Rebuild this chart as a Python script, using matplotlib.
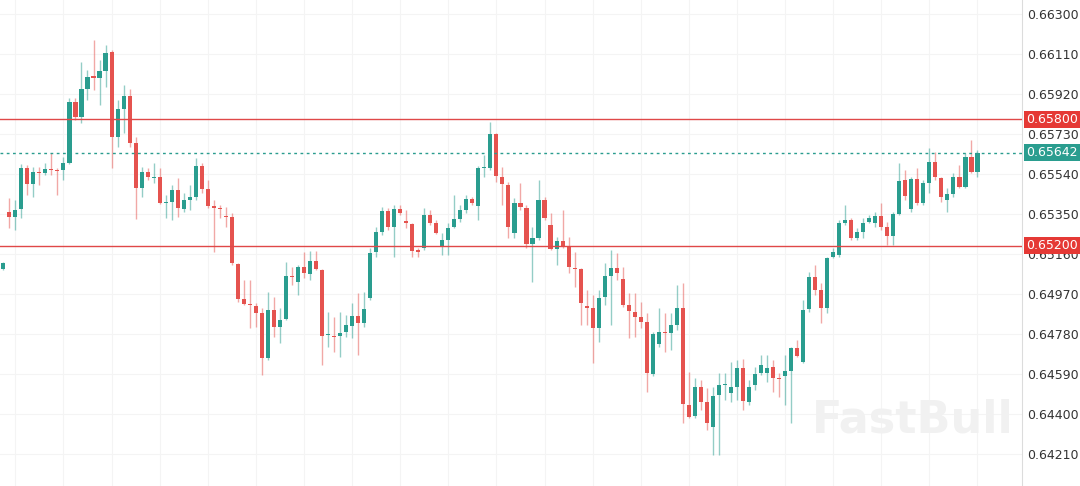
import numpy as np
import matplotlib.pyplot as plt
from matplotlib.transforms import blended_transform_factory

# OHLC values (oldest -> newest)
opens = [0.65089, 0.65359, 0.65336, 0.65374, 0.65569, 0.65493, 0.65550, 0.65545, 0.65564, 0.65559,
         0.65559, 0.65592, 0.65882, 0.65811, 0.65944, 0.66006, 0.65996, 0.66029, 0.66119, 0.65716,
         0.65849, 0.65911, 0.65687, 0.65474, 0.65550, 0.65521, 0.65526, 0.65402, 0.65407, 0.65464,
         0.65374, 0.65416, 0.65431, 0.65578, 0.65469, 0.65388, 0.65379, 0.65340, 0.65336, 0.65113,
         0.64946, 0.64922, 0.64913, 0.64880, 0.64666, 0.64894, 0.64813, 0.64851, 0.65056, 0.65027,
         0.65098, 0.65065, 0.65127, 0.65084, 0.64775, 0.64771, 0.64771, 0.64789, 0.64818, 0.64865,
         0.64832, 0.64951, 0.65170, 0.65265, 0.65364, 0.65288, 0.65374, 0.65317, 0.65303, 0.65179,
         0.65189, 0.65345, 0.65307, 0.65193, 0.65227, 0.65288, 0.65326, 0.65369, 0.65421, 0.65388,
         0.65569, 0.65569, 0.65730, 0.65526, 0.65488, 0.65260, 0.65402, 0.65379, 0.65208, 0.65236,
         0.65416, 0.65298, 0.65184, 0.65222, 0.65193, 0.65094, 0.65089, 0.64913, 0.64903, 0.64808,
         0.64956, 0.65056, 0.65094, 0.65041, 0.64918, 0.64884, 0.64861, 0.64837, 0.64590, 0.64733,
         0.64789, 0.64785, 0.64823, 0.64903, 0.64443, 0.64391, 0.64528, 0.64457, 0.64338, 0.64490,
         0.64538, 0.64500, 0.64528, 0.64618, 0.64457, 0.64538, 0.64595, 0.64595, 0.64623, 0.64571,
         0.64581, 0.64604, 0.64714, 0.64647, 0.64899, 0.65051, 0.64989, 0.64903, 0.65146, 0.65155,
         0.65307, 0.65322, 0.65236, 0.65265, 0.65312, 0.65307, 0.65340, 0.65288, 0.65246, 0.65350,
         0.65512, 0.65374, 0.65516, 0.65402, 0.65497, 0.65597, 0.65521, 0.65416, 0.65445, 0.65526,
         0.65478, 0.65621, 0.65550]
highs = [0.65122, 0.65426, 0.65416, 0.65588, 0.65583, 0.65573, 0.65573, 0.65592, 0.65640, 0.65569,
         0.65621, 0.65901, 0.65901, 0.66072, 0.66034, 0.66176, 0.66082, 0.66153, 0.66129, 0.65892,
         0.65963, 0.65944, 0.65716, 0.65573, 0.65569, 0.65592, 0.65569, 0.65440, 0.65488, 0.65521,
         0.65450, 0.65488, 0.65616, 0.65592, 0.65512, 0.65416, 0.65393, 0.65383, 0.65355, 0.65117,
         0.65037, 0.65037, 0.64927, 0.64903, 0.64980, 0.64956, 0.64903, 0.65122, 0.65098, 0.65108,
         0.65170, 0.65174, 0.65174, 0.65089, 0.64884, 0.64861, 0.64884, 0.64870, 0.64927, 0.64975,
         0.64980, 0.65189, 0.65288, 0.65383, 0.65379, 0.65393, 0.65393, 0.65369, 0.65307, 0.65189,
         0.65379, 0.65369, 0.65322, 0.65260, 0.65307, 0.65440, 0.65393, 0.65440, 0.65431, 0.65578,
         0.65630, 0.65787, 0.65735, 0.65573, 0.65502, 0.65426, 0.65497, 0.65393, 0.65288, 0.65512,
         0.65431, 0.65355, 0.65241, 0.65369, 0.65241, 0.65170, 0.65094, 0.64989, 0.64965, 0.64989,
         0.65117, 0.65179, 0.65165, 0.65098, 0.64975, 0.64975, 0.64932, 0.64880, 0.64789, 0.64903,
         0.64880, 0.64880, 0.65013, 0.65022, 0.64599, 0.64571, 0.64562, 0.64524, 0.64528, 0.64595,
         0.64595, 0.64647, 0.64657, 0.64661, 0.64562, 0.64623, 0.64680, 0.64680, 0.64657, 0.64595,
         0.64680, 0.64718, 0.64752, 0.64942, 0.65075, 0.65108, 0.65022, 0.65146, 0.65189, 0.65322,
         0.65393, 0.65331, 0.65284, 0.65331, 0.65345, 0.65359, 0.65402, 0.65312, 0.65359, 0.65592,
         0.65559, 0.65526, 0.65569, 0.65512, 0.65664, 0.65645, 0.65526, 0.65474, 0.65545, 0.65583,
         0.65640, 0.65702, 0.65654]
lows = [0.65084, 0.65284, 0.65274, 0.65331, 0.65440, 0.65431, 0.65488, 0.65535, 0.65535, 0.65440,
        0.65512, 0.65588, 0.65797, 0.65782, 0.65892, 0.65939, 0.65868, 0.65953, 0.65569, 0.65668,
        0.65735, 0.65668, 0.65326, 0.65431, 0.65512, 0.65497, 0.65398, 0.65331, 0.65322, 0.65336,
        0.65359, 0.65369, 0.65416, 0.65450, 0.65379, 0.65170, 0.65331, 0.65288, 0.65108, 0.64932,
        0.64918, 0.64808, 0.64813, 0.64585, 0.64657, 0.64766, 0.64737, 0.64847, 0.65013, 0.64965,
        0.65046, 0.65037, 0.65084, 0.64633, 0.64718, 0.64695, 0.64671, 0.64766, 0.64761, 0.64680,
        0.64813, 0.64942, 0.65146, 0.65250, 0.65274, 0.65146, 0.65345, 0.65284, 0.65146, 0.65146,
        0.65179, 0.65298, 0.65255, 0.65155, 0.65155, 0.65284, 0.65312, 0.65355, 0.65393, 0.65322,
        0.65526, 0.65559, 0.65502, 0.65393, 0.65236, 0.65236, 0.65369, 0.65189, 0.65027, 0.65227,
        0.65322, 0.65179, 0.65108, 0.65189, 0.65070, 0.65003, 0.64823, 0.64823, 0.64642, 0.64742,
        0.64918, 0.64823, 0.65037, 0.64908, 0.64761, 0.64766, 0.64808, 0.64505, 0.64581, 0.64718,
        0.64695, 0.64704, 0.64799, 0.64357, 0.64381, 0.64381, 0.64419, 0.64324, 0.64206, 0.64206,
        0.64467, 0.64457, 0.64467, 0.64419, 0.64443, 0.64514, 0.64585, 0.64552, 0.64505, 0.64481,
        0.64443, 0.64357, 0.64671, 0.64642, 0.64884, 0.64965, 0.64832, 0.64880, 0.65141, 0.65146,
        0.65298, 0.65227, 0.65227, 0.65236, 0.65307, 0.65288, 0.65274, 0.65203, 0.65203, 0.65345,
        0.65416, 0.65359, 0.65393, 0.65393, 0.65450, 0.65512, 0.65407, 0.65359, 0.65431, 0.65474,
        0.65474, 0.65545, 0.65526]
closes = [0.65117, 0.65336, 0.65369, 0.65569, 0.65493, 0.65550, 0.65545, 0.65564, 0.65559, 0.65554,
          0.65592, 0.65882, 0.65811, 0.65944, 0.66001, 0.65996, 0.66029, 0.66115, 0.65716, 0.65849,
          0.65911, 0.65687, 0.65474, 0.65550, 0.65526, 0.65526, 0.65402, 0.65407, 0.65464, 0.65379,
          0.65416, 0.65431, 0.65578, 0.65469, 0.65388, 0.65379, 0.65374, 0.65336, 0.65117, 0.64946,
          0.64922, 0.64918, 0.64880, 0.64666, 0.64894, 0.64813, 0.64847, 0.65056, 0.65051, 0.65098,
          0.65070, 0.65127, 0.65089, 0.64771, 0.64780, 0.64766, 0.64785, 0.64823, 0.64865, 0.64832,
          0.64899, 0.65165, 0.65265, 0.65364, 0.65288, 0.65374, 0.65355, 0.65307, 0.65174, 0.65170,
          0.65345, 0.65307, 0.65260, 0.65227, 0.65284, 0.65326, 0.65369, 0.65421, 0.65402, 0.65569,
          0.65573, 0.65730, 0.65531, 0.65493, 0.65288, 0.65402, 0.65383, 0.65208, 0.65236, 0.65416,
          0.65331, 0.65184, 0.65222, 0.65193, 0.65098, 0.65089, 0.64927, 0.64903, 0.64808, 0.64951,
          0.65056, 0.65094, 0.65070, 0.64918, 0.64889, 0.64861, 0.64837, 0.64595, 0.64780, 0.64789,
          0.64785, 0.64823, 0.64903, 0.64448, 0.64386, 0.64528, 0.64457, 0.64357, 0.64486, 0.64538,
          0.64543, 0.64528, 0.64618, 0.64462, 0.64528, 0.64590, 0.64633, 0.64618, 0.64571, 0.64566,
          0.64604, 0.64714, 0.64676, 0.64894, 0.65051, 0.64989, 0.64903, 0.65141, 0.65170, 0.65307,
          0.65322, 0.65236, 0.65265, 0.65307, 0.65331, 0.65340, 0.65288, 0.65246, 0.65350, 0.65507,
          0.65436, 0.65516, 0.65402, 0.65497, 0.65597, 0.65526, 0.65431, 0.65445, 0.65526, 0.65478,
          0.65621, 0.65550, 0.65642]

# price axis labels and marked levels
yticks = [0.64210, 0.64400, 0.64590, 0.64780, 0.64970, 0.65160,
          0.65350, 0.65540, 0.65730, 0.65920, 0.66110, 0.66300]
levels = [0.65800, 0.65200]

up_col = '#2a9d8f'
dn_col = '#e5534f'
level_col = '#e04848'

o = np.array(opens)
h = np.array(highs)
l = np.array(lows)
c = np.array(closes)
x = np.arange(len(o))
up = c >= o
cols = np.where(up, up_col, dn_col)

fig = plt.figure(figsize=(10.8, 4.86), dpi=100)
ax = fig.add_axes([0, 0, 1022 / 1080, 1])

# grid
ax.set_yticks(yticks)
ax.set_xticks(np.arange(2, 170, 8))
ax.grid(True, color='#f4f4f4', lw=0.8, zorder=0)
ax.set_axisbelow(True)

# watermark
fig.text(0.845, 0.135, 'FastBull', fontsize=32, fontweight='bold',
         color='#f1f1f1', ha='center', va='center', zorder=0)

# candles
ax.vlines(x, l, h, colors=cols, lw=1, alpha=0.5, zorder=2)
bottoms = np.minimum(o, c)
heights = np.maximum(np.abs(c - o), 0.00004)
ax.bar(x, heights, bottom=bottoms, width=0.68, color=cols, lw=0, zorder=3)

# levels
for lv in levels:
    ax.axhline(lv, color=level_col, lw=1, zorder=4)
ax.axhline(closes[-1], color=up_col, lw=1, ls=(0, (2, 2.5)), zorder=4)

ax.set_xlim(-0.55, 169.4)
ax.set_ylim(0.64058, 0.663665)

ax.yaxis.tick_right()
ax.yaxis.set_major_formatter(plt.FormatStrFormatter('%.5f'))
ax.tick_params(axis='y', length=0, pad=4, labelsize=9, labelcolor='#333333')
ax.tick_params(axis='x', length=0, labelbottom=False)
for s in ['left', 'top', 'bottom']:
    ax.spines[s].set_visible(False)
ax.spines['right'].set_color('#dcdcdc')

# price tags on the axis
tr = blended_transform_factory(fig.transFigure, ax.transData)
for val, col in [(levels[0], '#e53935'), (levels[1], '#e53935'), (closes[-1], up_col)]:
    ax.text(1026 / 1080, val, '%.5f' % val, transform=tr, color='white', fontsize=9,
            ha='left', va='center', clip_on=False, zorder=10,
            bbox=dict(boxstyle='square,pad=0.18', fc=col, ec='none'))

fig.savefig('out.png', dpi=100, facecolor='white')
